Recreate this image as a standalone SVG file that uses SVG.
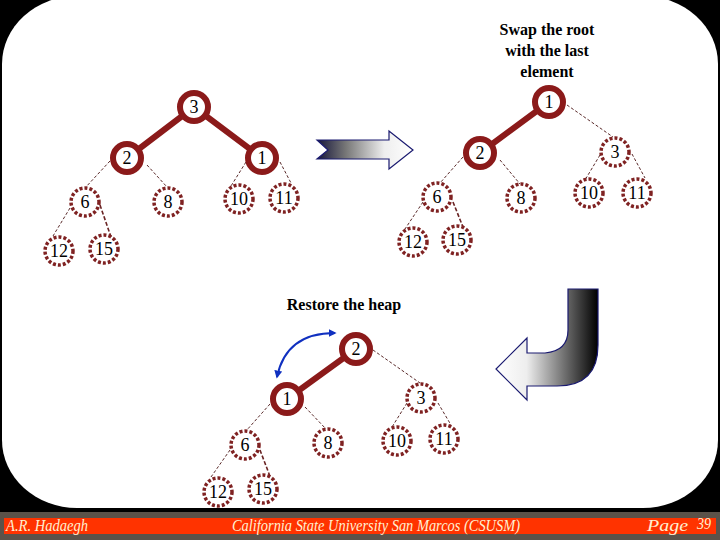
<svg xmlns="http://www.w3.org/2000/svg" width="720" height="540" viewBox="0 0 720 540">
<defs>
<style>
.thick{fill:#fff;stroke:#8B1A1A;stroke-width:6}
.dash{fill:#fff;stroke:#7F2222;stroke-width:3.5;stroke-dasharray:3 2}
.num{font-family:"Liberation Serif",serif;font-size:18px;fill:#000;text-anchor:middle;dominant-baseline:central}
.edge{stroke:#8B1A1A;stroke-width:6;stroke-linecap:round}
.thin{stroke:#5a2a2a;stroke-width:1;stroke-dasharray:3 2;fill:none}
.thin2{stroke:#6a2424;stroke-width:1.6;stroke-dasharray:4 2;fill:none}
.title{font-family:"Liberation Serif",serif;font-size:16px;font-weight:bold;fill:#000;text-anchor:middle}
.foot{font-family:"Liberation Serif",serif;font-style:italic;font-size:16px;fill:#FFEFD0}
</style>
<linearGradient id="gRight" gradientUnits="userSpaceOnUse" x1="317" y1="0" x2="413" y2="0">
<stop offset="0" stop-color="#15153a"/>
<stop offset="0.3" stop-color="#777"/>
<stop offset="0.7" stop-color="#eee"/>
<stop offset="1" stop-color="#fff"/>
</linearGradient>
<linearGradient id="gCurve" gradientUnits="userSpaceOnUse" x1="496" y1="0" x2="598" y2="0">
<stop offset="0" stop-color="#fff"/>
<stop offset="0.3" stop-color="#eee"/>
<stop offset="0.7" stop-color="#666"/>
<stop offset="1" stop-color="#000"/>
</linearGradient>
<marker id="bh" viewBox="0 0 10 10" refX="8" refY="5" markerWidth="4" markerHeight="4" orient="auto-start-reverse">
<path d="M0,0 L10,5 L0,10 Z" fill="#1030C0"/>
</marker>
</defs>
<rect x="0" y="0" width="720" height="540" fill="#000"/>
<rect x="2" y="-4" width="716" height="512" rx="75" ry="68" fill="#fff"/>
<rect x="0" y="512" width="720" height="28" fill="#5B5249"/>
<rect x="4" y="518" width="712" height="16" fill="#FF3300"/>
<text class="foot" x="6" y="531" textLength="82" lengthAdjust="spacingAndGlyphs">A.R. Hadaegh</text>
<text class="foot" x="232" y="531" textLength="288" lengthAdjust="spacingAndGlyphs">California State University San Marcos (CSUSM)</text>
<text class="foot" x="647" y="531" textLength="41" lengthAdjust="spacingAndGlyphs">Page</text>
<text class="foot" x="697" y="529" textLength="14" lengthAdjust="spacingAndGlyphs">39</text>

<text class="title" x="547" y="35">Swap the root</text>
<text class="title" x="547" y="56">with the last</text>
<text class="title" x="547" y="77">element</text>
<text class="title" x="344" y="310">Restore the heap</text>

<g id="arrows">
<path id="arrowRight" d="M317,140 L389,140 L389,131 L413,150 L389,169 L389,159 L317,159 L328,150 Z" fill="url(#gRight)" stroke="#1a1a70" stroke-width="1.2"/>
<path id="arrowCurve" d="M568,289 L598,289 L598,345 Q598,386 557,386 L527,386 L527,400 L496,369 L527,338 L527,353 L545,353 Q568,351 568,330 Z" fill="url(#gCurve)" stroke="#1a1a70" stroke-width="1.2"/>
</g>

<g id="connectors">
<line class="edge" x1="194" y1="107" x2="127" y2="158"/>
<line class="edge" x1="194" y1="107" x2="262" y2="158"/>
<line class="thin" x1="110" y1="161" x2="85" y2="188"/>
<line class="thin" x1="147" y1="165" x2="167" y2="187"/>
<line class="thin" x1="246" y1="162" x2="231" y2="186"/>
<line class="thin" x1="280" y1="162" x2="291" y2="183"/>
<line class="thin" x1="70" y1="208" x2="53" y2="236"/>
<line class="thin2" x1="100" y1="205" x2="111" y2="237"/>

<line class="edge" x1="549" y1="102" x2="480" y2="153"/>
<line class="thin" x1="567" y1="105" x2="613" y2="137"/>
<line class="thin" x1="463" y1="157" x2="440" y2="183"/>
<line class="thin" x1="500" y1="160" x2="520" y2="184"/>
<line class="thin" x1="600" y1="155" x2="585" y2="180"/>
<line class="thin" x1="632" y1="154" x2="645" y2="178"/>
<line class="thin" x1="423" y1="202" x2="405" y2="229"/>
<line class="thin2" x1="453" y1="202" x2="465" y2="232"/>

<line class="edge" x1="356" y1="349" x2="287" y2="399"/>
<line class="thin" x1="373" y1="350" x2="420" y2="383"/>
<line class="thin" x1="270" y1="404" x2="246" y2="431"/>
<line class="thin" x1="305" y1="407" x2="326" y2="429"/>
<line class="thin" x1="407" y1="403" x2="392" y2="427"/>
<line class="thin" x1="438" y1="403" x2="451" y2="425"/>
<line class="thin" x1="230" y1="450" x2="211" y2="477"/>
<line class="thin2" x1="260" y1="450" x2="271" y2="479"/>

<path d="M335,333 Q286,333 277,377" fill="none" stroke="#1030C0" stroke-width="2" marker-start="url(#bh)" marker-end="url(#bh)"/>
</g>

<g id="t1n3"><circle class="thick" cx="194" cy="107" r="14"/><text class="num" x="194" y="107">3</text></g>
<g id="t1n2"><circle class="thick" cx="127" cy="158" r="14"/><text class="num" x="127" y="158">2</text></g>
<g id="t1n1"><circle class="thick" cx="262" cy="158" r="14"/><text class="num" x="262" y="158">1</text></g>
<g id="t1n6"><circle class="dash" cx="85" cy="202" r="14"/><text class="num" x="85" y="202">6</text></g>
<g id="t1n8"><circle class="dash" cx="168" cy="202" r="14"/><text class="num" x="168" y="202">8</text></g>
<g id="t1n10"><circle class="dash" cx="239" cy="199" r="14"/><text class="num" x="239" y="199">10</text></g>
<g id="t1n11"><circle class="dash" cx="284" cy="198" r="14"/><text class="num" x="284" y="198">11</text></g>
<g id="t1n12"><circle class="dash" cx="59" cy="251" r="14"/><text class="num" x="59" y="251">12</text></g>
<g id="t1n15"><circle class="dash" cx="104" cy="249" r="14"/><text class="num" x="104" y="249">15</text></g>

<g id="t2n1"><circle class="thick" cx="549" cy="102" r="14"/><text class="num" x="549" y="102">1</text></g>
<g id="t2n2"><circle class="thick" cx="480" cy="153" r="14"/><text class="num" x="480" y="153">2</text></g>
<g id="t2n3"><circle class="dash" cx="615" cy="152" r="14"/><text class="num" x="615" y="152">3</text></g>
<g id="t2n6"><circle class="dash" cx="437" cy="197" r="14"/><text class="num" x="437" y="197">6</text></g>
<g id="t2n8"><circle class="dash" cx="521" cy="198" r="14"/><text class="num" x="521" y="198">8</text></g>
<g id="t2n10"><circle class="dash" cx="589" cy="193" r="14"/><text class="num" x="589" y="193">10</text></g>
<g id="t2n11"><circle class="dash" cx="637" cy="193" r="14"/><text class="num" x="637" y="193">11</text></g>
<g id="t2n12"><circle class="dash" cx="413" cy="242" r="14"/><text class="num" x="413" y="242">12</text></g>
<g id="t2n15"><circle class="dash" cx="457" cy="240" r="14"/><text class="num" x="457" y="240">15</text></g>

<g id="t3n2"><circle class="thick" cx="356" cy="349" r="14"/><text class="num" x="356" y="349">2</text></g>
<g id="t3n1"><circle class="thick" cx="287" cy="399" r="14"/><text class="num" x="287" y="399">1</text></g>
<g id="t3n3"><circle class="dash" cx="421" cy="398" r="14"/><text class="num" x="421" y="398">3</text></g>
<g id="t3n6"><circle class="dash" cx="245" cy="445" r="14"/><text class="num" x="245" y="445">6</text></g>
<g id="t3n8"><circle class="dash" cx="328" cy="443" r="14"/><text class="num" x="328" y="443">8</text></g>
<g id="t3n10"><circle class="dash" cx="397" cy="441" r="14"/><text class="num" x="397" y="441">10</text></g>
<g id="t3n11"><circle class="dash" cx="444" cy="439" r="14"/><text class="num" x="444" y="439">11</text></g>
<g id="t3n12"><circle class="dash" cx="218" cy="492" r="14"/><text class="num" x="218" y="492">12</text></g>
<g id="t3n15"><circle class="dash" cx="263" cy="489" r="14"/><text class="num" x="263" y="489">15</text></g>
</svg>
